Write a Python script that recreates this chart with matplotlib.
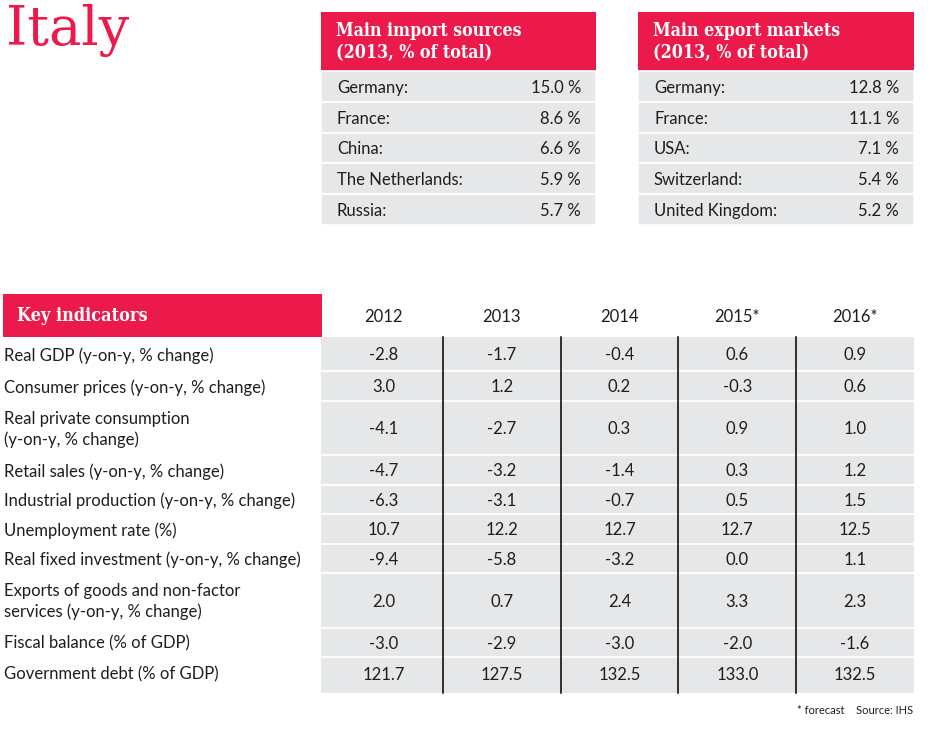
import numpy as np
import matplotlib
matplotlib.use("Agg")
import matplotlib.pyplot as plt
from matplotlib.patches import Rectangle

# data
import_countries = ["Germany", "France", "China", "The Netherlands", "Russia"]
import_shares = [15.0, 8.6, 6.6, 5.9, 5.7]
export_countries = ["Germany", "France", "USA", "Switzerland", "United Kingdom"]
export_shares = [12.8, 11.1, 7.1, 5.4, 5.2]

years = ["2012", "2013", "2014", "2015*", "2016*"]
indicators = [
    "Real GDP (y-on-y, % change)",
    "Consumer prices (y-on-y, % change)",
    "Real private consumption\n(y-on-y, % change)",
    "Retail sales (y-on-y, % change)",
    "Industrial production (y-on-y, % change)",
    "Unemployment rate (%)",
    "Real fixed investment (y-on-y, % change)",
    "Exports of goods and non-factor\nservices (y-on-y, % change)",
    "Fiscal balance (% of GDP)",
    "Government debt (% of GDP)",
]
real_gdp = [-2.8, -1.7, -0.4, 0.6, 0.9]
consumer_prices = [3.0, 1.2, 0.2, -0.3, 0.6]
private_consumption = [-4.1, -2.7, 0.3, 0.9, 1.0]
retail_sales = [-4.7, -3.2, -1.4, 0.3, 1.2]
industrial_production = [-6.3, -3.1, -0.7, 0.5, 1.5]
unemployment = [10.7, 12.2, 12.7, 12.7, 12.5]
fixed_investment = [-9.4, -5.8, -3.2, 0.0, 1.1]
exports_growth = [2.0, 0.7, 2.4, 3.3, 2.3]
fiscal_balance = [-3.0, -2.9, -3.0, -2.0, -1.6]
government_debt = [121.7, 127.5, 132.5, 133.0, 132.5]

RED = "#EC1A4A"
GREY = "#E6E7E8"
TEXT = "#1E1E1E"
SERIF = "DejaVu Serif"
SANS = "Lato"
FS = 12

fig = plt.figure(figsize=(9.32, 7.31), dpi=100)
ax = fig.add_axes([0, 0, 1, 1])
ax.set_xlim(0, 932)
ax.set_ylim(731, 0)
ax.axis("off")

# title
ax.text(6, 4, "Italy", color=RED, fontsize=39, family=SERIF, va="top", ha="left")


def share_table(x0, x1, title, names, shares):
    top, head_h, row_h = 12, 59, 30.8
    ax.add_patch(Rectangle((x0, top), x1 - x0, head_h, color=RED, lw=0))
    ax.text(x0 + 15, top + head_h / 2 + 0.5, title, color="white", family=SERIF,
            fontweight="bold", fontsize=12.8, fontstretch="condensed",
            va="center", ha="left", linespacing=1.35)
    for i, (name, share) in enumerate(zip(names, shares)):
        y = top + head_h + i * row_h
        ax.add_patch(Rectangle((x0, y), x1 - x0, row_h, facecolor=GREY,
                               edgecolor="white", lw=1.2))
        ax.text(x0 + 16, y + row_h / 2 + 1.5, name + ":", color=TEXT, family=SANS,
                fontsize=FS, va="center", ha="left")
        ax.text(x1 - 15, y + row_h / 2 + 1.5, f"{share:.1f} %", color=TEXT,
                family=SANS, fontsize=FS, va="center", ha="right")


share_table(321, 596, "Main import sources\n(2013, % of total)",
            import_countries, import_shares)
share_table(638, 914, "Main export markets\n(2013, % of total)",
            export_countries, export_shares)

# key indicators
rows = [real_gdp, consumer_prices, private_consumption, retail_sales,
        industrial_production, unemployment, fixed_investment,
        exports_growth, fiscal_balance, government_debt]

ax.add_patch(Rectangle((3, 294), 319, 43, color=RED, lw=0))
ax.text(17, 316, "Key indicators", color="white", family=SERIF,
        fontweight="bold", fontsize=13, fontstretch="condensed",
        va="center", ha="left")

edges = np.linspace(325, 914, len(years) + 1)
centers = (edges[:-1] + edges[1:]) / 2
for cx, yr in zip(centers, years):
    ax.text(cx, 317, yr, color=TEXT, family=SANS, fontsize=FS,
            va="center", ha="center")

grey_left = 321
heights = []
for i, lab in enumerate(indicators):
    h = 29.5 if "\n" not in lab else 54.5
    if i == 0:
        h += 4.5
    if i == len(indicators) - 1:
        h += 6.5
    heights.append(h)

row_tops = 337 + np.concatenate([[0], np.cumsum(heights)[:-1]])
bottom = 337 + sum(heights)

ax.add_patch(Rectangle((grey_left, 337), 914 - grey_left, bottom - 337,
                       color=GREY, lw=0))

for i, (lab, vals) in enumerate(zip(indicators, rows)):
    top = row_tops[i]
    h = heights[i]
    if i > 0:
        ax.plot([grey_left, 914], [top, top], color="white", lw=1.3)
    cy = top + h / 2 + 1.5
    if i == 0:
        cy = top + 2 + (h - 4.5) / 2 + 1.5
    if i == len(indicators) - 1:
        cy = top + (h - 6.5) / 2 + 3
    ax.text(4, cy, lab, color=TEXT, family=SANS, fontsize=FS,
            va="center", ha="left", linespacing=1.3)
    for cx, v in zip(centers, vals):
        ax.text(cx, cy, f"{v:.1f}", color=TEXT, family=SANS, fontsize=FS,
                va="center", ha="center")

for xe in edges[1:-1]:
    ax.plot([xe, xe], [337, bottom], color="black", lw=1.1)

ax.text(913, 710, "* forecast    Source: IHS", color=TEXT, family=SANS,
        fontsize=8, va="center", ha="right")

fig.savefig("out.png", dpi=100)
